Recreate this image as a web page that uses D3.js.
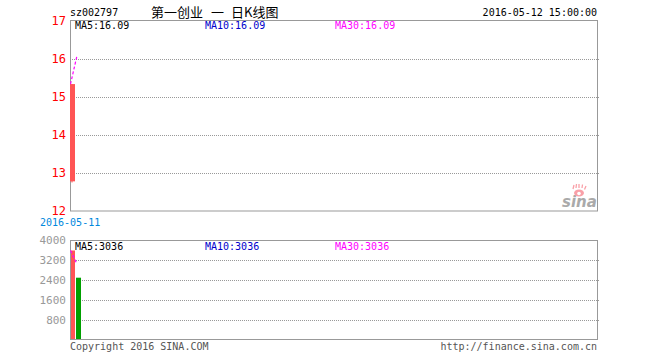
<!DOCTYPE html>
<html><head><meta charset="utf-8">
<script src="https://cdn.jsdelivr.net/npm/d3@7"></script>
<style>
body{margin:0;background:#fff;}
text{font-family:"DejaVu Sans Mono","Liberation Mono",monospace;font-size:10px;}
</style></head>
<body><svg id="c" width="660" height="360"></svg>
<script>
const code = "sz002797";
const titleParts = ["第一创业", "一", "日K线图"];
const stamp = "2016-05-12 15:00:00";
const dates = ["2016-05-11", "2016-05-12"];
const open = [12.78, 16.87];
const close = [15.34, 16.87];
const high = [15.34, 16.87];
const low = [12.75, 16.87];
const priceMA = [15.34, 16.09];
const volume = [3580, 2492];
const volColor = ["#ff5555", "#00a000"];
const volMA = [3580, 3036];
const priceTicks = [12, 13, 14, 15, 16, 17];
const volTicks = [800, 1600, 2400, 3200, 4000];
const priceLegend = [["MA5:16.09", "#000"], ["MA10:16.09", "#0000cc"], ["MA30:16.09", "#ff00ff"]];
const volLegend = [["MA5:3036", "#000"], ["MA10:3036", "#0000cc"], ["MA30:3036", "#ff00ff"]];

const svg = d3.select("#c");
const L = 70, R = 598, slots = 88;
const x = d3.scaleLinear().domain([0, slots]).range([L, R]);
const yP = d3.scaleLinear().domain([12, 17]).range([211, 21]);
const yV = d3.scaleLinear().domain([0, 4000]).range([340, 240]);

// header
svg.append("text").attr("x", 70).attr("y", 16).text(code);
const tt = svg.append("text").attr("y", 17)
  .style("font-family", "'Noto Sans CJK SC',sans-serif").style("font-size", "13px");
tt.selectAll("tspan").data(titleParts).join("tspan")
  .attr("x", (d, i) => [151, 211, 231][i]).text(d => d);
svg.append("text").attr("x", 597).attr("y", 16).attr("text-anchor", "end").text(stamp);

// price panel
const gP = svg.append("g");
gP.selectAll("line.grid").data(priceTicks.filter(t => t > 12 && t < 17)).join("line")
  .attr("x1", L).attr("x2", R + 1).attr("y1", d => Math.round(yP(d)) + 0.5).attr("y2", d => Math.round(yP(d)) + 0.5)
  .attr("stroke", "#999").attr("stroke-dasharray", "1,1");
gP.append("rect").attr("x", L + 0.5).attr("y", yP(17) - 0.5).attr("width", R - L - 1).attr("height", yP(12) - yP(17) + 0.5)
  .attr("fill", "none").attr("stroke", "#999");
gP.selectAll("text.tk").data(priceTicks).join("text")
  .attr("x", 66).attr("y", d => yP(d) + 3.5).attr("text-anchor", "end")
  .attr("fill", "#ff0000").style("font-size", "12px").text(d => d);
priceLegend.forEach((d, i) => {
  gP.append("text").attr("x", [75, 205, 335][i]).attr("y", 29).attr("fill", d[1]).text(d[0]);
});
// sina logo
const logo = gP.append("g");
logo.append("text").attr("x", 562).attr("y", 207).attr("fill", "#aaa")
  .style("font-family", "'DejaVu Sans',sans-serif").style("font-weight", "bold").style("font-style", "italic")
  .style("font-size", "15px").text("sina");
logo.append("ellipse").attr("cx", 579).attr("cy", 193).attr("rx", 5).attr("ry", 3.5).attr("fill", "#f9a0a8");
logo.append("circle").attr("cx", 579).attr("cy", 193.5).attr("r", 1.8).attr("fill", "#fff");
logo.append("path").attr("d", "M573 189 L574 185 M576 188 L576.5 184 M579 188 L579 184 M582 188 L582.5 184.5 M584.5 189.5 L586 186")
  .attr("stroke", "#f9a0a8").attr("stroke-width", 1.3);

// candles
const cw = 5;
dates.forEach((d, i) => {
  const col = close[i] >= open[i] ? "#ff5555" : "#00a000";
  const cx = x(i) + 2;
  gP.append("line").attr("x1", cx).attr("x2", cx).attr("y1", yP(high[i])).attr("y2", yP(low[i]))
    .attr("stroke", col);
  const h = Math.abs(yP(open[i]) - yP(close[i]));
  if (h > 0) gP.append("rect").attr("x", x(i)).attr("y", yP(Math.max(open[i], close[i])))
    .attr("width", cw).attr("height", h).attr("fill", col);
});
gP.append("path").datum(priceMA)
  .attr("d", d3.line().x((d, i) => x(i) + 0.5 + i * 0.5).y(d => yP(d)))
  .attr("fill", "none").attr("stroke", "#ff00ff").attr("stroke-width", 1.2).attr("stroke-dasharray", "3,2");

svg.append("text").attr("x", 40).attr("y", 226).attr("fill", "#0088dd").text(dates[0]);

// volume panel
const gV = svg.append("g");
gV.selectAll("line.grid").data(volTicks.filter(t => t < 4000)).join("line")
  .attr("x1", L).attr("x2", R + 1).attr("y1", d => Math.round(yV(d)) + 0.5).attr("y2", d => Math.round(yV(d)) + 0.5)
  .attr("stroke", "#999").attr("stroke-dasharray", "1,1");
gV.selectAll("text.tk").data(volTicks).join("text")
  .attr("x", 66).attr("y", d => yV(d) + 4).attr("text-anchor", "end")
  .attr("fill", "#999").style("font-size", "11px").text(d => d);
gV.selectAll("rect.bar").data(volume).join("rect")
  .attr("x", (d, i) => x(i)).attr("y", d => yV(d)).attr("width", cw).attr("height", d => yV(0) - yV(d))
  .attr("fill", (d, i) => volColor[i]);
gV.append("rect").attr("x", L + 0.5).attr("y", yV(4000) + 0.5).attr("width", R - L - 1).attr("height", yV(0) - yV(4000) - 1)
  .attr("fill", "none").attr("stroke", "#999");
gV.append("path").datum(volMA)
  .attr("d", d3.line().x((d, i) => x(i) + 0.5 + i * 0.5).y(d => yV(d)))
  .attr("fill", "none").attr("stroke", "#ff00ff").attr("stroke-width", 1.2).attr("stroke-dasharray", "3,2");
volLegend.forEach((d, i) => {
  gV.append("text").attr("x", [75, 205, 335][i]).attr("y", 250).attr("fill", d[1]).text(d[0]);
});

svg.append("text").attr("x", 70).attr("y", 350).attr("fill", "#555").text("Copyright 2016 SINA.COM");
svg.append("text").attr("x", 597).attr("y", 350).attr("text-anchor", "end").attr("fill", "#555").text("http://finance.sina.com.cn");
</script></body></html>
